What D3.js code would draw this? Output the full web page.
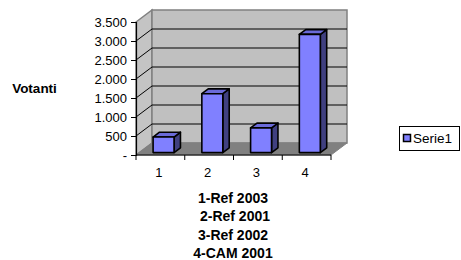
<!DOCTYPE html>
<html>
<head>
<meta charset="utf-8">
<script src="https://cdn.jsdelivr.net/npm/d3@7/dist/d3.min.js"></script>
<style>
html,body{margin:0;padding:0;background:#fff;}
svg{display:block;font-family:"Liberation Sans",Arial,sans-serif;}
</style>
</head>
<body>
<svg id="chart" width="461" height="260"></svg>
<script>
const categories = ["1", "2", "3", "4"];
const values = [410, 1550, 650, 3110];
const yTicks = [0, 500, 1000, 1500, 2000, 2500, 3000, 3500];
const yTickLabels = ["-", "500", "1.000", "1.500", "2.000", "2.500", "3.000", "3.500"];
const categoryTitle = ["1-Ref 2003", "2-Ref 2001", "3-Ref 2002", "4-CAM 2001"];
const yTitle = "Votanti";
const seriesName = "Serie1";

const svg = d3.select("#chart");
const DX = 16, DY = -12;
const x = d3.scaleBand().domain(categories).range([136, 331]).paddingInner(0.57).paddingOuter(0.285);
const y = d3.scaleLinear().domain([0, 3500]).range([155, 22]);
const P = (px, py, d) => [px + DX * d, py + DY * d];
const poly = pts => pts.map(p => p.join(",")).join(" ");

const x0 = x.range()[0], x1 = x.range()[1];
const y0 = y(0), yTop = y(3500);

// side wall
svg.append("polygon")
  .attr("points", poly([P(x0, yTop, 0), P(x0, yTop, 1), P(x0, y0, 1), P(x0, y0, 0)]))
  .attr("fill", "#c4c4c4").attr("stroke", "#808080").attr("stroke-width", 1.5);
// back wall
svg.append("polygon")
  .attr("points", poly([P(x0, yTop, 1), P(x1, yTop, 1), P(x1, y0, 1), P(x0, y0, 1)]))
  .attr("fill", "#c0c0c0").attr("stroke", "#808080").attr("stroke-width", 1.5);
// floor
svg.append("polygon")
  .attr("points", poly([P(x0, y0, 0), P(x0, y0, 1), P(x1, y0, 1), P(x1, y0, 0)]))
  .attr("fill", "#808080").attr("stroke", "#808080").attr("stroke-width", 1);

// gridlines
const grid = yTicks.filter(v => v > 0 && v < 3500);
grid.forEach(v => {
  const a = P(x0, y(v), 0), b = P(x0, y(v), 1), c = P(x1, y(v), 1);
  svg.append("polyline").attr("points", poly([a, b, c]))
    .attr("fill", "none").attr("stroke", "#000").attr("stroke-width", 1);
});

// axes
const yAxis = d3.axisLeft(y).tickValues(yTicks).tickSize(5).tickPadding(4)
  .tickFormat((d, i) => yTickLabels[i]);
const gy = svg.append("g").attr("transform", `translate(${x0},0)`).call(yAxis);
gy.select(".domain").attr("stroke", "#000").attr("stroke-width", 1.2);
gy.selectAll("text").attr("font-size", 13).attr("fill", "#000").attr("font-family", "Liberation Sans, Arial, sans-serif");

const xTickScale = d3.scalePoint().domain(d3.range(5)).range([x0, x1]);
svg.append("line").attr("x1", x0).attr("x2", x1).attr("y1", y0).attr("y2", y0)
  .attr("stroke", "#000").attr("stroke-width", 1.2);
d3.range(5).forEach(i => {
  svg.append("line").attr("x1", xTickScale(i)).attr("x2", xTickScale(i))
    .attr("y1", y0).attr("y2", y0 + 5).attr("stroke", "#000").attr("stroke-width", 1);
});
svg.selectAll(".xlab").data(categories).enter().append("text")
  .attr("x", d => x(d) + x.bandwidth() / 2 - 1.5)
  .attr("y", 177).attr("text-anchor", "middle")
  .attr("font-size", 13).text(d => d);

// bars
const d0 = 0.2, dd = 0.4;
const bars = svg.selectAll(".bar").data(values).enter().append("g");
bars.each(function(v, i) {
  const g = d3.select(this);
  const l = x(categories[i]), r = l + x.bandwidth();
  const t = y(v), b = y(0);
  g.append("polygon").attr("points", poly([P(r, t, d0), P(r, t, d0 + dd), P(r, b, d0 + dd), P(r, b, d0)]))
    .attr("fill", "#404080").attr("stroke", "#000").attr("stroke-width", 1.6).attr("stroke-linejoin", "round");
  g.append("polygon").attr("points", poly([P(l, t, d0), P(l, t, d0 + dd), P(r, t, d0 + dd), P(r, t, d0)]))
    .attr("fill", "#6a6ad8").attr("stroke", "#000").attr("stroke-width", 1.6).attr("stroke-linejoin", "round");
  g.append("polygon").attr("points", poly([P(l, t, d0), P(r, t, d0), P(r, b, d0), P(l, b, d0)]))
    .attr("fill", "#8080ff").attr("stroke", "#000").attr("stroke-width", 1.6).attr("stroke-linejoin", "round");
});

// y title
svg.append("text").attr("x", 34.5).attr("y", 93).attr("text-anchor", "middle")
  .attr("font-size", 13.5).attr("font-weight", "bold").text(yTitle);

// category title
svg.selectAll(".ct").data(categoryTitle).enter().append("text")
  .attr("x", (d, i) => i === 1 ? 235 : 233).attr("y", (d, i) => 203 + i * 18.4)
  .attr("text-anchor", "middle").attr("font-size", 14).attr("font-weight", "bold")
  .text(d => d);

// legend
const lg = svg.append("g");
lg.append("rect").attr("x", 399.5).attr("y", 126.5).attr("width", 60).attr("height", 24)
  .attr("fill", "#fff").attr("stroke", "#000").attr("stroke-width", 1);
lg.append("rect").attr("x", 403.5).attr("y", 134.5).attr("width", 7).attr("height", 7)
  .attr("fill", "#8080ff").attr("stroke", "#000").attr("stroke-width", 1.5);
lg.append("text").attr("x", 413).attr("y", 143).attr("font-size", 13.5).text(seriesName);
</script>
</body>
</html>
